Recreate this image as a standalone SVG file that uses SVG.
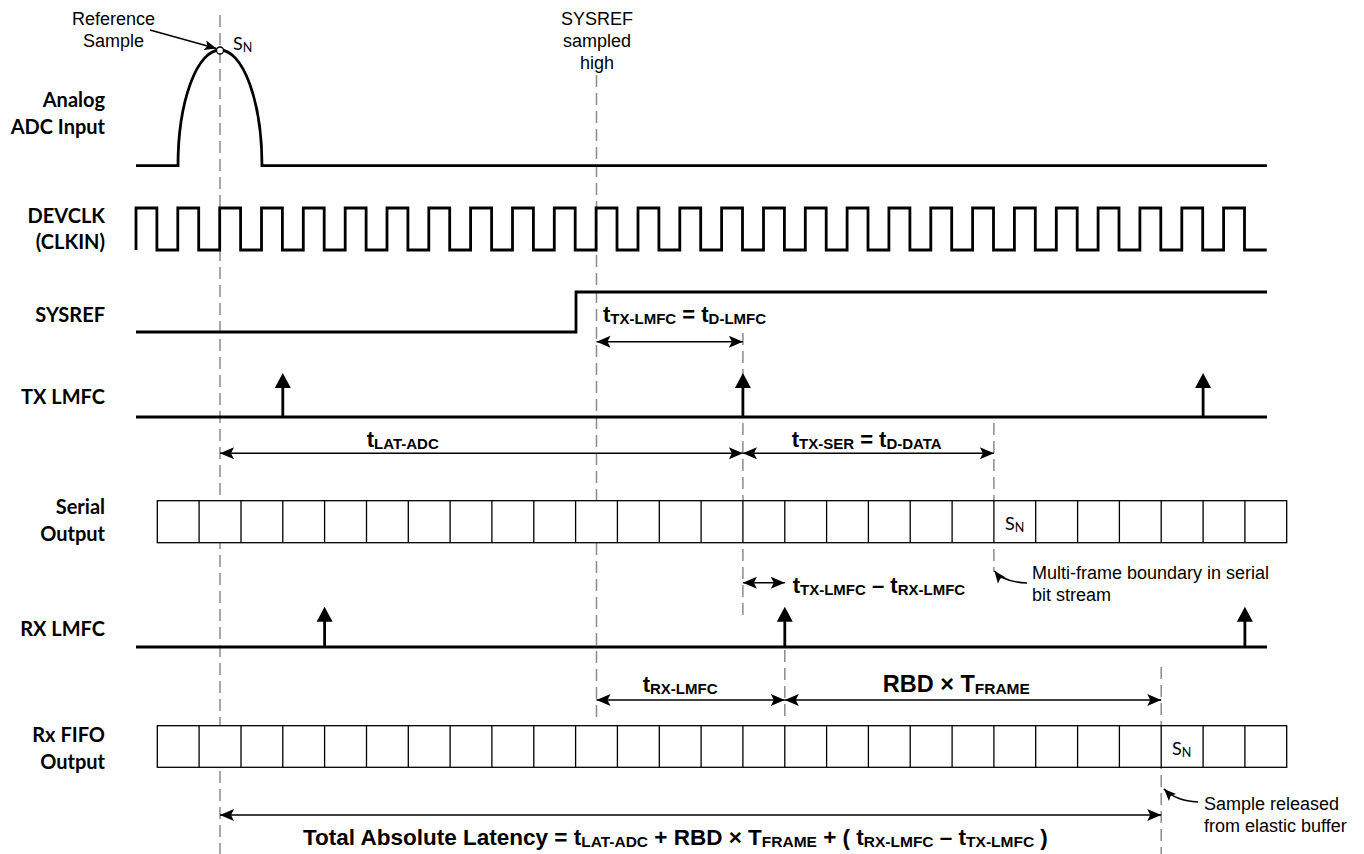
<svg xmlns="http://www.w3.org/2000/svg" width="1364" height="854" viewBox="0 0 1364 854">
<style>
.lbl{font-family:Lato,"Noto Sans",sans-serif;font-weight:700;font-size:20px;text-anchor:end;fill:#000}
.ann{font-family:"Liberation Sans",Arial,sans-serif;font-size:18px;fill:#000}
.mid{text-anchor:middle}
.f{font-family:"Liberation Sans",Arial,sans-serif;font-weight:700;font-size:22px;fill:#000}
.sub{font-size:15px}
.big{font-size:22.5px}
.big .sub{font-size:15.5px}
.rbd{font-size:23.5px}
.rbd .sub{font-size:15.5px}
.sn{font-family:Lato,"Noto Sans",sans-serif;font-size:18px;fill:#000}
.snsub{font-size:12.5px}
.sig{fill:none;stroke:#000;stroke-width:2.8;stroke-linejoin:miter}
.dash{stroke:#8c8c8c;stroke-width:1.5;stroke-dasharray:12 6;fill:none}
.dim{stroke:#000;stroke-width:1.5;fill:none;marker-start:url(#ah);marker-end:url(#ah)}
.one{stroke:#000;stroke-width:1.5;fill:none;marker-end:url(#ahs)}
.cells{fill:#fff;stroke:#000;stroke-width:1.3}
</style>
<defs>
<marker id="ah" viewBox="-16 -8 17 16" refX="0" refY="0" markerWidth="17" markerHeight="16" markerUnits="userSpaceOnUse" orient="auto-start-reverse">
<path d="M0,0 L-14,-6 L-11,0 L-14,6 Z" fill="#000"/>
</marker>
<marker id="ahs" viewBox="-13 -7 14 14" refX="0" refY="0" markerWidth="14" markerHeight="14" markerUnits="userSpaceOnUse" orient="auto">
<path d="M0,0 L-12,-5 L-9.5,0 L-12,5 Z" fill="#000"/>
</marker>
<path id="lmfcHead" d="M-8,15 L0,0 L8,15 Z" fill="#000"/>
</defs>

<g id="guides">
<line class="dash" x1="220" y1="15" x2="220" y2="854"/>
<line class="dash" x1="596.5" y1="75" x2="596.5" y2="720"/>
<line class="dash" x1="742.9" y1="333" x2="742.9" y2="617"/>
<line class="dash" x1="784.8" y1="650" x2="784.8" y2="722"/>
<line class="dash" x1="993.9" y1="423" x2="993.9" y2="572"/>
<line class="dash" x1="1161.2" y1="667" x2="1161.2" y2="854"/>
</g>

<g id="labels">
<text class="lbl" x="105" y="107">Analog</text>
<text class="lbl" x="105" y="133.5">ADC Input</text>
<text class="lbl" x="105" y="222.5">DEVCLK</text>
<text class="lbl" x="105" y="249">(CLKIN)</text>
<text class="lbl" x="105" y="321.5">SYSREF</text>
<text class="lbl" x="105" y="404">TX LMFC</text>
<text class="lbl" x="105" y="514">Serial</text>
<text class="lbl" x="105" y="541">Output</text>
<text class="lbl" x="105" y="636">RX LMFC</text>
<text class="lbl" x="105" y="742">Rx FIFO</text>
<text class="lbl" x="105" y="769">Output</text>
</g>

<g id="analog">
<path class="sig" d="M136,165.7 H178 A42,115.7 0 0 1 262,165.7 H1267"/>
<circle cx="220" cy="50.5" r="3.5" fill="#fff" stroke="#000" stroke-width="1.3"/>
<text class="sn" x="233" y="50">S<tspan class="snsub" dy="2">N</tspan></text>
</g>

<g id="devclk">
<path class="sig" d="M136,250 V208 H156.9 V250 H177.8 V208 H198.7 V250 H219.7 V208 H240.6 V250 H261.5 V208 H282.4 V250 H303.3 V208 H324.2 V250 H345.2 V208 H366.1 V250 H387 V208 H407.9 V250 H428.8 V208 H449.7 V250 H470.6 V208 H491.6 V250 H512.5 V208 H533.4 V250 H554.3 V208 H575.2 V250 H596.1 V208 H617 V250 H638 V208 H658.9 V250 H679.8 V208 H700.7 V250 H721.6 V208 H742.5 V250 H763.5 V208 H784.4 V250 H805.3 V208 H826.2 V250 H847.1 V208 H868 V250 H888.9 V208 H909.9 V250 H930.8 V208 H951.7 V250 H972.6 V208 H993.5 V250 H1014.4 V208 H1035.3 V250 H1056.3 V208 H1077.2 V250 H1098.1 V208 H1119 V250 H1139.9 V208 H1160.8 V250 H1181.8 V208 H1202.7 V250 H1223.6 V208 H1244.5 V250 H1266.7"/>
</g>

<g id="sysref">
<path class="sig" d="M136,332 H576 V292 H1267"/>
</g>

<g id="tx-lmfc">
<path class="sig" d="M136,417 H1267 M282.8,417 V386 M742.9,417 V386 M1203.1,417 V386"/>
<use href="#lmfcHead" x="282.8" y="373"/>
<use href="#lmfcHead" x="742.9" y="373"/>
<use href="#lmfcHead" x="1203.1" y="373"/>
</g>

<g id="serial-output">
<rect class="cells" x="157.3" y="500.7" width="1129.4" height="42"/>
<path stroke="#000" stroke-width="1.3" d="M199.1,500.7V542.7M241,500.7V542.7M282.8,500.7V542.7M324.6,500.7V542.7M366.5,500.7V542.7M408.3,500.7V542.7M450.1,500.7V542.7M491.9,500.7V542.7M533.8,500.7V542.7M575.6,500.7V542.7M617.4,500.7V542.7M659.3,500.7V542.7M701.1,500.7V542.7M742.9,500.7V542.7M784.8,500.7V542.7M826.6,500.7V542.7M868.4,500.7V542.7M910.2,500.7V542.7M952.1,500.7V542.7M993.9,500.7V542.7M1035.7,500.7V542.7M1077.6,500.7V542.7M1119.4,500.7V542.7M1161.2,500.7V542.7M1203.1,500.7V542.7M1244.9,500.7V542.7"/>
<text class="sn" x="1005" y="530">S<tspan class="snsub" dy="2">N</tspan></text>
</g>

<g id="rx-lmfc">
<path class="sig" d="M136,647 H1267 M324.6,647 V620 M784.8,647 V620 M1244.9,647 V620"/>
<use href="#lmfcHead" x="324.6" y="606.7"/>
<use href="#lmfcHead" x="784.8" y="606.7"/>
<use href="#lmfcHead" x="1244.9" y="606.7"/>
</g>

<g id="rx-fifo">
<rect class="cells" x="157.3" y="725.7" width="1129.4" height="41.6"/>
<path stroke="#000" stroke-width="1.3" d="M199.1,725.7V767.3M241,725.7V767.3M282.8,725.7V767.3M324.6,725.7V767.3M366.5,725.7V767.3M408.3,725.7V767.3M450.1,725.7V767.3M491.9,725.7V767.3M533.8,725.7V767.3M575.6,725.7V767.3M617.4,725.7V767.3M659.3,725.7V767.3M701.1,725.7V767.3M742.9,725.7V767.3M784.8,725.7V767.3M826.6,725.7V767.3M868.4,725.7V767.3M910.2,725.7V767.3M952.1,725.7V767.3M993.9,725.7V767.3M1035.7,725.7V767.3M1077.6,725.7V767.3M1119.4,725.7V767.3M1161.2,725.7V767.3M1203.1,725.7V767.3M1244.9,725.7V767.3"/>
<text class="sn" x="1172" y="755">S<tspan class="snsub" dy="2">N</tspan></text>
</g>

<g id="connectors">
<line class="dim" x1="596.5" y1="341.7" x2="742.9" y2="341.7"/>
<line class="dim" x1="220" y1="453.3" x2="742.9" y2="453.3"/>
<line class="dim" x1="742.9" y1="453.3" x2="993.9" y2="453.3"/>
<line class="dim" x1="742.9" y1="582.7" x2="784.8" y2="582.7"/>
<line class="dim" x1="596.5" y1="700" x2="784.8" y2="700"/>
<line class="dim" x1="784.8" y1="700" x2="1161.2" y2="700"/>
<line class="dim" x1="220" y1="815" x2="1161.2" y2="815"/>
<line class="one" x1="150" y1="30" x2="216.5" y2="48.5"/>
<path class="one" d="M1027,583 Q1003,582 994.5,571"/>
<path class="one" d="M1198,802 Q1176,801 1164,789"/>
</g>

<g id="annotations">
<text class="ann mid" x="113.5" y="25">Reference</text>
<text class="ann mid" x="113.5" y="46.7">Sample</text>
<text class="ann mid" x="597" y="25">SYSREF</text>
<text class="ann mid" x="597" y="47">sampled</text>
<text class="ann mid" x="597" y="69">high</text>
<text class="ann" x="1032" y="579">Multi-frame boundary in serial</text>
<text class="ann" x="1032" y="600.5">bit stream</text>
<text class="ann" x="1204" y="810">Sample released</text>
<text class="ann" x="1204" y="831.5">from elastic buffer</text>
</g>

<g id="formulas">
<text class="f" x="603" y="321.7">t<tspan class="sub" dy="2">TX-LMFC</tspan><tspan dy="-2"> = t</tspan><tspan class="sub" dy="2">D-LMFC</tspan></text>
<text class="f" x="366.7" y="447">t<tspan class="sub" dy="2">LAT-ADC</tspan></text>
<text class="f" x="791.7" y="446.7">t<tspan class="sub" dy="2">TX-SER</tspan><tspan dy="-2"> = t</tspan><tspan class="sub" dy="2">D-DATA</tspan></text>
<text class="f" x="792.7" y="593.3">t<tspan class="sub" dy="2">TX-LMFC</tspan><tspan dy="-2"> – t</tspan><tspan class="sub" dy="2">RX-LMFC</tspan></text>
<text class="f" x="642.7" y="691.7">t<tspan class="sub" dy="2">RX-LMFC</tspan></text>
<text class="f rbd" x="882.7" y="691.7">RBD × T<tspan class="sub" dy="2">FRAME</tspan></text>
<text class="f big" x="303" y="845">Total Absolute Latency = t<tspan class="sub" dy="2">LAT-ADC</tspan><tspan dy="-2"> + RBD × T</tspan><tspan class="sub" dy="2">FRAME</tspan><tspan dy="-2"> + ( t</tspan><tspan class="sub" dy="2">RX-LMFC</tspan><tspan dy="-2"> – t</tspan><tspan class="sub" dy="2">TX-LMFC</tspan><tspan dy="-2"> )</tspan></text>
</g>
</svg>
